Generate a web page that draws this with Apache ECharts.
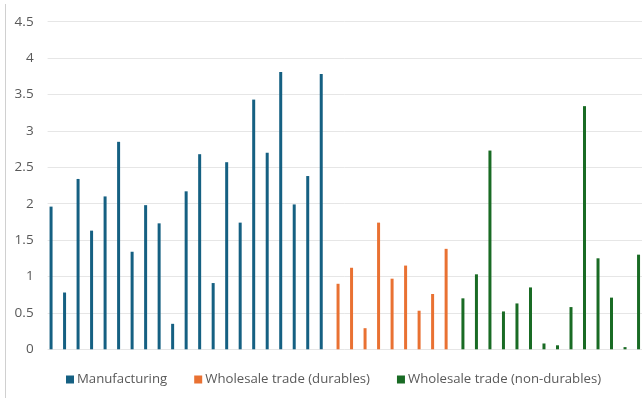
<!DOCTYPE html>
<html>
<head>
<meta charset="utf-8">
<script src="https://cdn.jsdelivr.net/npm/echarts@6/dist/echarts.min.js"></script>
<style>
  html, body { margin: 0; padding: 0; background: #ffffff; }
  #chart { width: 642px; height: 398px; }
</style>
</head>
<body>
<div id="chart"></div>
<script>
// Per-industry values, one bar each, in chart order
const manufacturing = [1.96, 0.78, 2.34, 1.63, 2.10, 2.85, 1.34, 1.98, 1.73, 0.35, 2.17,
                       2.68, 0.91, 2.57, 1.74, 3.43, 2.70, 3.81, 1.99, 2.38, 3.78];
const wholesaleDurables = [0.90, 1.12, 0.29, 1.74, 0.97, 1.15, 0.53, 0.76, 1.38];
const wholesaleNonDurables = [0.70, 1.03, 2.73, 0.52, 0.63, 0.85, 0.08, 0.055, 0.58, 3.34,
                              1.25, 0.71, 0.03, 1.30];
const seriesNames = ['Manufacturing', 'Wholesale trade (durables)', 'Wholesale trade (non-durables)'];
const yTicks = { min: 0, max: 4.5, interval: 0.5 };

// One category per bar; each series only fills its own stretch of categories
const total = manufacturing.length + wholesaleDurables.length + wholesaleNonDurables.length;
const categories = Array.from({ length: total }, (_, i) => String(i + 1));
function place(values, start) {
  const arr = new Array(total).fill(null);
  values.forEach((v, i) => { arr[start + i] = v; });
  return arr;
}
const s1 = place(manufacturing, 0);
const s2 = place(wholesaleDurables, manufacturing.length);
const s3 = place(wholesaleNonDurables, manufacturing.length + wholesaleDurables.length);

const colors = ['#156082', '#E97132', '#196B24'];
const font = 'Open Sans';

const chart = echarts.init(document.getElementById('chart'), null, { renderer: 'canvas' });
chart.setOption({
  animation: false,
  backgroundColor: '#ffffff',
  color: colors,
  grid: { left: 47.6, top: 21.7, width: 598, height: 327.6, containLabel: false },
  legend: {
    data: seriesNames,
    left: 61,
    top: 368,
    icon: 'rect',
    itemWidth: 8,
    itemHeight: 8,
    itemGap: 27,
    textStyle: { color: '#595959', fontSize: 13.2, fontFamily: font, padding: [0, 0, 0, -2] }
  },
  xAxis: {
    type: 'category',
    data: categories,
    axisLine: { show: false },
    axisTick: { show: false },
    axisLabel: { show: false }
  },
  yAxis: {
    type: 'value',
    min: yTicks.min,
    max: yTicks.max,
    interval: yTicks.interval,
    axisLine: { show: false },
    axisTick: { show: false },
    axisLabel: { color: '#595959', fontSize: 13.5, fontFamily: font, margin: 14 },
    splitLine: { lineStyle: { color: '#e6e6e6', width: 1 } }
  },
  graphic: [{
    type: 'line',
    shape: { x1: 5.5, y1: 4, x2: 5.5, y2: 398 },
    style: { stroke: '#d0d0d0', lineWidth: 1 },
    silent: true
  }],
  series: [
    { name: seriesNames[0], type: 'bar', data: s1, barWidth: 3, barGap: '10%' },
    { name: seriesNames[1], type: 'bar', data: s2, barWidth: 3, barGap: '10%' },
    { name: seriesNames[2], type: 'bar', data: s3, barWidth: 3, barGap: '10%' }
  ]
});
</script>
</body>
</html>
